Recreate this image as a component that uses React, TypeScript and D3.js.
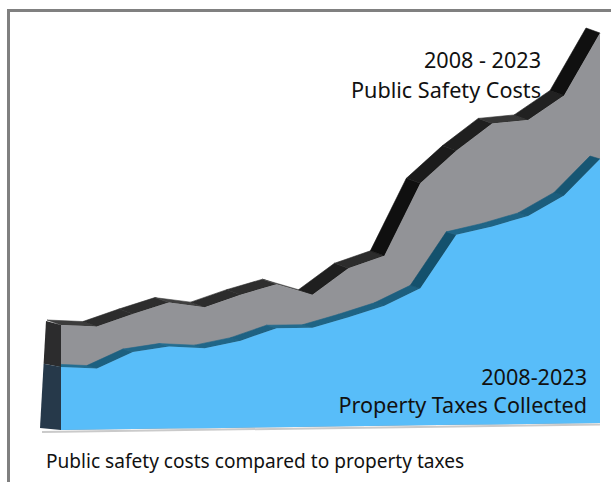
import * as d3 from "d3";

const years = ["2008", "2009", "2010", "2011", "2012", "2013", "2014", "2015", "2016", "2017", "2018", "2019", "2020", "2021", "2022", "2023"];
// stacked heights (relative units)
const publicSafetyCosts = [10.5, 10.3, 11.5, 12.6, 12.1, 13.3, 14.3, 13.2, 15.8, 17.0, 24.2, 27.4, 30.1, 30.4, 32.8, 39.0];
const propertyTaxes = [6.3, 6.1, 7.7, 8.2, 8.0, 8.7, 9.9, 9.9, 10.9, 12.0, 13.7, 19.0, 19.8, 20.8, 22.8, 26.4];

const W = 611;
const H = 482;
const FONT = "'Noto Sans', 'Open Sans', sans-serif";

type Pt = [number, number];

export default function App() {
  const x = d3.scalePoint<string>().domain(years).range([61, 600]);
  // slight perspective tilt of the floor
  const floor = d3.scaleLinear().domain([61, 600]).range([430, 423]);
  const h = d3.scaleLinear().domain([0, 40]).range([0, 400]);

  const pts = (vals: number[]): Pt[] =>
    years.map((yr, i) => {
      const px = x(yr) ?? 0;
      return [px, floor(px) - h(vals[i])];
    });

  const grayPts = pts(publicSafetyCosts);
  const bluePts = pts(propertyTaxes);

  const area = d3
    .area<Pt>()
    .x((d) => d[0])
    .y0((d) => floor(d[0]))
    .y1((d) => d[1]);

  const poly = (p: Pt[]) => p.map((q) => `${q[0]},${q[1]}`).join(" ");

  // extruded top faces, shaded by slope
  const topFaces = (p: Pt[], dx: number, dy: number, shade: (t: number) => string) =>
    p.slice(0, -1).map((a, i) => {
      const b = p[i + 1];
      const t = Math.atan2(-(b[1] - a[1]), b[0] - a[0]);
      const fill = shade(t);
      const quad: Pt[] = [a, b, [b[0] + dx, b[1] + dy], [a[0] + dx, a[1] + dy]];
      return <polygon key={i} points={poly(quad)} fill={fill} stroke={fill} strokeWidth={0.6} />;
    });

  const grayShade = (t: number) => {
    const l = Math.max(16, Math.min(82, 58 - t * 42));
    return d3.rgb(l, l, l).formatHex();
  };
  const blueShade = (t: number) => {
    const k = Math.max(0, Math.min(1, 0.45 + t * 0.55));
    return d3.interpolateRgb("#2f82ab", "#14506c")(k);
  };

  // left side face
  const g0 = grayPts[0];
  const b0 = bluePts[0];
  const fb: Pt = [61, floor(61)];
  const backTop: Pt = [g0[0] - 15, g0[1] - 4];
  const backBot: Pt = [fb[0] - 21, fb[1] - 2];
  const lerpBack = (yv: number): Pt => {
    const f = (yv - g0[1]) / (fb[1] - g0[1]);
    return [backTop[0] + (backBot[0] - backTop[0]) * f, backTop[1] + (backBot[1] - backTop[1]) * f];
  };
  const backMid = lerpBack(b0[1]);

  return (
    <svg width={W} height={H} style={{ position: "absolute", left: 0, top: 0, background: "#fff" }}>
      {/* frame */}
      <line x1={8.5} y1={10.5} x2={W} y2={10.5} stroke="#808080" strokeWidth={3} />
      <line x1={8.5} y1={9} x2={8.5} y2={H} stroke="#808080" strokeWidth={3} />

      {/* floor shadow */}
      <line x1={42} y1={floor(61) + 2} x2={600} y2={floor(600) + 1.5} stroke="#bdbdbd" strokeWidth={2} opacity={0.8} />

      {topFaces(grayPts, -14, -5, grayShade)}
      <path d={area(grayPts) ?? ""} fill="#929397" />
      {topFaces(bluePts, -10, -3, blueShade)}
      <path d={area(bluePts) ?? ""} fill="#58bdf9" />

      <polygon points={poly([g0, backTop, backMid, b0])} fill="#2c2c2d" />
      <polygon points={poly([b0, backMid, backBot, fb])} fill="#26394a" />

      <g fontFamily={FONT} fill="#111">
        <text x={541} y={68} fontSize={21.6} textAnchor="end">2008 - 2023</text>
        <text x={541} y={98} fontSize={21.6} textAnchor="end">Public Safety Costs</text>
        <text x={587} y={385} fontSize={21.6} textAnchor="end">2008-2023</text>
        <text x={587} y={413} fontSize={21.6} textAnchor="end">Property Taxes Collected</text>
        <text x={46} y={468} fontSize={19.1}>Public safety costs compared to property taxes</text>
      </g>
    </svg>
  );
}
